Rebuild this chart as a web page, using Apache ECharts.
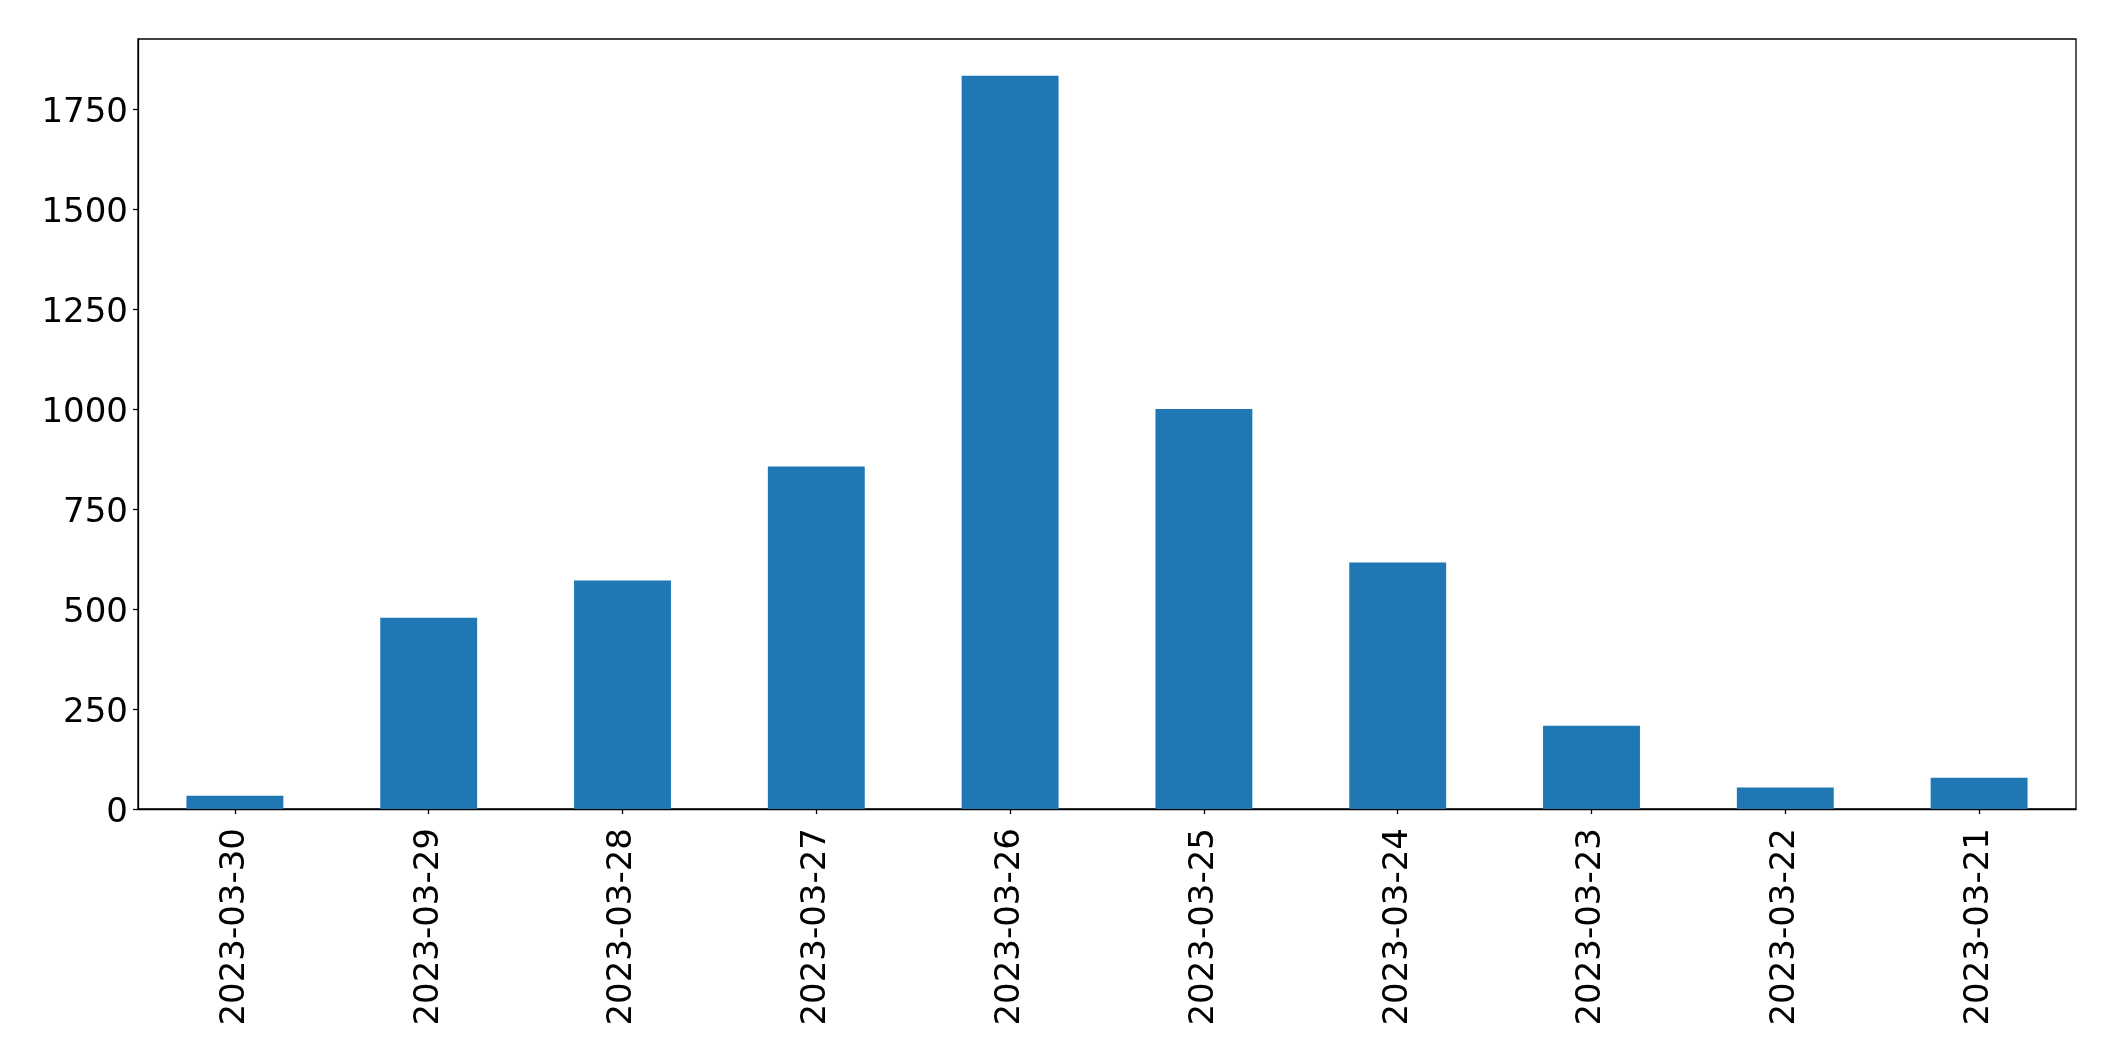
<!DOCTYPE html>
<html>
<head>
<meta charset="utf-8">
<script src="https://cdn.jsdelivr.net/npm/echarts@6/dist/echarts.min.js"></script>
<style>
html,body{margin:0;padding:0;background:#fff;}
#chart{width:2115px;height:1061px;}
</style>
</head>
<body>
<div id="chart"></div>
<script>
const categories = ['2023-03-30','2023-03-29','2023-03-28','2023-03-27','2023-03-26','2023-03-25','2023-03-24','2023-03-23','2023-03-22','2023-03-21'];
const counts = [33, 478, 571, 856, 1833, 1000, 616, 208, 54, 78];
const yTicks = [0, 250, 500, 750, 1000, 1250, 1500, 1750];

const chart = echarts.init(document.getElementById('chart'), null, {renderer: 'canvas'});
const font = 'DejaVu Sans';
chart.setOption({
  animation: false,
  backgroundColor: '#ffffff',
  grid: {
    left: 138, top: 39, right: 39, bottom: 252,
    containLabel: false,
    outerBoundsMode: 'none',
    show: true,
    borderColor: '#000000',
    borderWidth: 1.3,
    backgroundColor: 'transparent'
  },
  xAxis: {
    type: 'category',
    data: categories,
    boundaryGap: true,
    axisLine: {show: true, lineStyle: {color: '#000', width: 1.3}},
    axisTick: {show: true, alignWithLabel: true, length: 5, lineStyle: {color: '#000', width: 1.3}},
    axisLabel: {rotate: 90, margin: 19, color: '#000', fontFamily: font, fontSize: 34, interval: 0},
    splitLine: {show: false}
  },
  yAxis: {
    type: 'value',
    min: 0,
    max: 1925,
    interval: 250,
    axisLine: {show: true, lineStyle: {color: '#000', width: 1.3}},
    axisTick: {show: true, length: 5, lineStyle: {color: '#000', width: 1.3}, customValues: yTicks},
    axisLabel: {margin: 10, color: '#000', fontFamily: font, fontSize: 34, customValues: yTicks,
      formatter: function (v) { return '{a|' + v + '}'; },
      rich: {a: {fontFamily: font, fontSize: 34, color: '#000', padding: [8, 0, 0, 0]}}},
    splitLine: {show: false}
  },
  series: [{
    type: 'bar',
    data: counts,
    barWidth: '50%',
    itemStyle: {color: '#1f77b4'}
  }]
});
</script>
</body>
</html>
